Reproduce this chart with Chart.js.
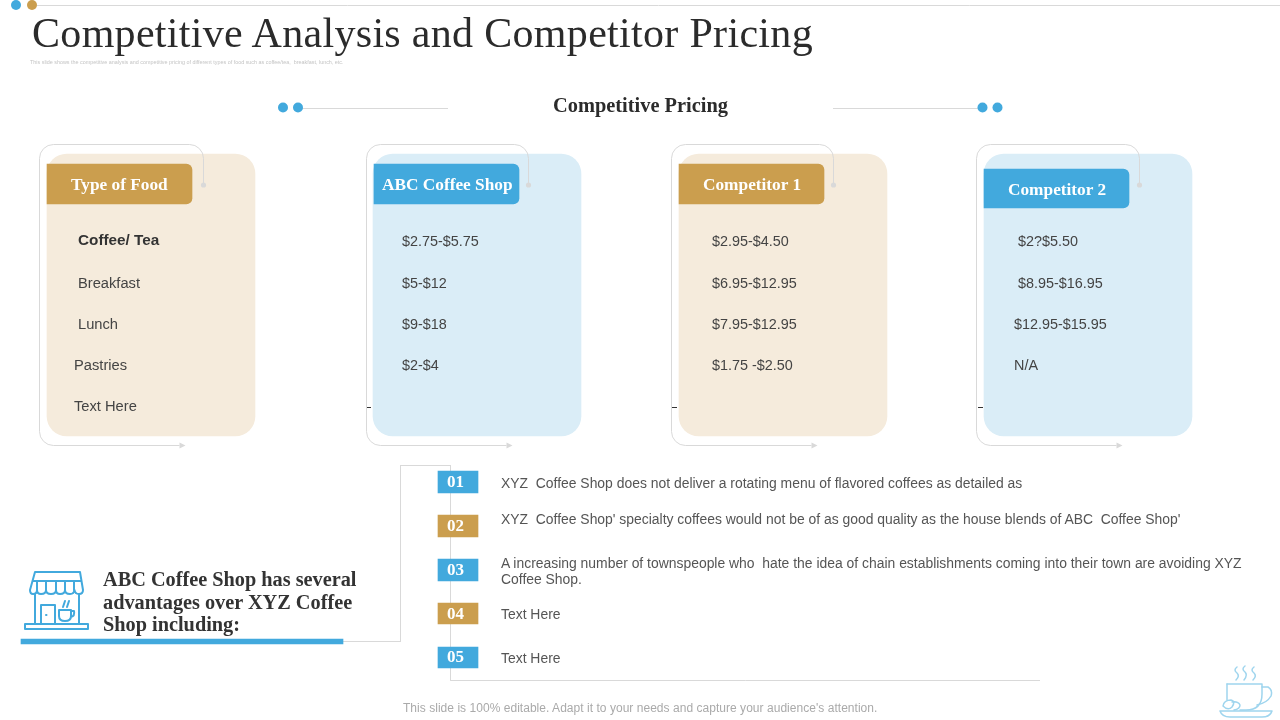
<!DOCTYPE html>
<html><head><meta charset="utf-8">
<script src="https://cdn.jsdelivr.net/npm/chart.js@4"></script>
<style>
html,body{margin:0;padding:0;background:#fff;width:1280px;height:720px;overflow:hidden}
#c{position:absolute;left:0;top:0}
.t{position:absolute;white-space:pre;transform:translateY(-50%);line-height:1;font-family:"Liberation Sans",Arial,sans-serif}
.s{font-family:"Liberation Serif",serif}
svg{position:absolute;left:0;top:0}
</style></head><body>
<canvas id="c" width="1280" height="720"></canvas>
<div id="txt"></div>
<svg width="1280" height="720" fill="none">
 <g stroke="#42A9DD" stroke-width="2" stroke-linejoin="round" stroke-linecap="round">
  <path d="M35 572H80L83 590Q83 594 79 594Q75 594 74.500 590Q74 594 70 594Q65 594 65 590Q65 594 60 594Q56 594 56 590Q56 594 51 594Q46 594 46 590Q46 594 41 594Q37 594 37 590Q37 594 33 594Q30 594 30 590Z"/>
  <path d="M33 581H81M37 581V590M46 581V590M56 581V590M65 581V590M74 581V590"/>
  <path d="M35 594V624M79 594V624"/>
  <rect x="25" y="624" width="63" height="5"/>
  <path d="M41 624V605H55V624"/><path d="M46 615h.5"/>
  <path d="M59 610H71V616Q71 621 65 621Q59 621 59 616ZM71 611H74Q75 616 71 617"/>
  <path d="M63 607L65 601M67 607L69 601"/>
 </g>
 <g stroke="#9FD5EE" stroke-width="1.500" stroke-linejoin="round" stroke-linecap="round">
  <path d="M1237 667Q1233 670 1237 673Q1240 676 1236 680M1245 666Q1241 669 1245 672Q1248 675 1244 680M1254 667Q1250 670 1254 673Q1257 676 1253 680"/>
  <path d="M1227 684H1262V694Q1262 710 1246 710H1240"/><path d="M1227 684V700"/>
  <path d="M1262 687H1268Q1273 690 1271 696Q1267 703 1257 705"/>
  <path d="M1220 711H1272Q1270 717 1262 717H1230Q1222 717 1220 711Z"/>
  <path d="M1223 706Q1224 700 1231 700Q1236 701 1232 707Q1228 711 1223 706ZM1232 702Q1238 701 1240 705Q1240 709 1234 710"/>
 </g>
</svg>
<script>
// ---- table contents ----
const columnHeaders = ["Type of Food","ABC Coffee Shop","Competitor 1","Competitor 2"];
const foods       = ["Coffee/ Tea","Breakfast","Lunch","Pastries","Text Here"];
const abcPrices   = ["$2.75-$5.75","$5-$12","$9-$18","$2-$4"];
const comp1Prices = ["$2.95-$4.50","$6.95-$12.95","$7.95-$12.95","$1.75 -$2.50"];
const comp2Prices = ["$2?$5.50","$8.95-$16.95","$12.95-$15.95","N/A"];
const badgeLabels = ["01","02","03","04","05"];
const advantages  = [
 ["XYZ  Coffee Shop does not deliver a rotating menu of flavored coffees as detailed as"],
 ["XYZ  Coffee Shop' specialty coffees would not be of as good quality as the house blends of ABC  Coffee Shop'"],
 ["A increasing number of townspeople who  hate the idea of chain establishments coming into their town are avoiding XYZ","Coffee Shop."],
 ["Text Here"],["Text Here"]];
const titleText = "Competitive Analysis and Competitor Pricing";
const subtitleText = "This slide shows the competitive analysis and competitive pricing of different types of food such as coffee/tea,  breakfast, lunch, etc.";
const sectionTitle = "Competitive Pricing";
const advantageHeading = ["ABC Coffee Shop has several","advantages over XYZ Coffee","Shop including:"];
const footerText = "This slide is 100% editable. Adapt it to your needs and capture your audience's attention.";

// ---- palette and layout ----
const BLUE="#42A9DD", GOLD="#CB9E4E", PALEB="#DAEDF7", PALEG="#F5EBDC", GREY="#D9D9D9";
const panelCentre=[151,477,783,1088];
const panelFill=[PALEG,PALEB,PALEG,PALEB];
const tabFill=[GOLD,BLUE,GOLD,BLUE];
const tabCentre=[119.5,446.5,751.5,1056.5];
const tabSpan=[[164,204],[164,204],[164,204],[169,208]];
const badgeSpan=[[471,493],[515,537],[559,581],[603,624],[647,668]];
const badgeFill=[BLUE,GOLD,BLUE,GOLD,BLUE];
const bracketLeft=[39,366,671,976];
const bracketRight=[203,528,833,1139];

const seg=(a,b,col,w,o)=>({type:'line',data:[{x:a[0],y:a[1]},{x:b[0],y:b[1]}],borderColor:col,borderWidth:w||1,pointRadius:0,order:o||5,fill:false,tension:0});
const dots=(pts,cols,r)=>({type:'scatter',data:pts.map(p=>({x:p[0],y:p[1]})),backgroundColor:cols,pointRadius:r,pointBorderWidth:0,order:0});

const datasets=[
 {type:'bar',data:panelCentre.map(x=>({x,y:[154,436]})),backgroundColor:panelFill,barThickness:208,borderRadius:20,borderSkipped:false,order:9,grouped:false},
 {type:'bar',data:tabCentre.map((x,i)=>({x,y:tabSpan[i]})),backgroundColor:tabFill,barThickness:145,borderRadius:{topLeft:0,bottomLeft:0,topRight:6,bottomRight:6},borderSkipped:false,order:2,grouped:false},
 {type:'bar',data:badgeSpan.map(y=>({x:458,y})),backgroundColor:badgeFill,barThickness:40,borderSkipped:false,order:2,grouped:false},
 {type:'bar',data:[{x:182,y:[639,644]}],backgroundColor:BLUE,barThickness:322,borderSkipped:false,order:1,grouped:false},
 seg([37,5.5],[1280,5.5],GREY),
 seg([298,108.5],[448,108.5],GREY), seg([833,108.5],[982,108.5],GREY),
 seg([343,641.5],[401,641.5],GREY), seg([400.5,641.5],[400.5,465],GREY), seg([400.5,465.5],[451,465.5],GREY),
 seg([450.5,465],[450.5,680.5],GREY), seg([450.5,680.5],[1040,680.5],GREY),
 seg([366,407.5],[371,407.5],"#333"), seg([672,407.5],[677,407.5],"#333"), seg([978,407.5],[983,407.5],"#333"),
 dots([[16,5],[32,5]],[BLUE,GOLD],5),
 dots([[283,107.500],[298,107.500],[982.5,107.500],[997.5,107.500]],BLUE,5),
];

const brackets={id:'brackets',afterDatasetsDraw(ch){
 const {ctx,scales:{x,y}}=ch; const px=v=>x.getPixelForValue(v), py=v=>y.getPixelForValue(v);
 ctx.save(); ctx.strokeStyle=GREY; ctx.fillStyle=GREY; ctx.lineWidth=1;
 bracketLeft.forEach((l,i)=>{
  const L=px(l)+.5, R=px(bracketRight[i])+.5, T=py(145)-.5, B=py(445)+.5, r=14, end=py(185);
  ctx.beginPath(); ctx.moveTo(R,end); ctx.lineTo(R,T+r); ctx.arcTo(R,T,R-r,T,r); ctx.lineTo(L+r,T);
  ctx.arcTo(L,T,L,T+r,r); ctx.lineTo(L,B-r); ctx.arcTo(L,B,L+r,B,r); ctx.lineTo(L+140,B); ctx.stroke();
  ctx.beginPath(); ctx.arc(R,end,2.6,0,7); ctx.fill();
  ctx.beginPath(); ctx.moveTo(L+140,B-3); ctx.lineTo(L+146,B); ctx.lineTo(L+140,B+3); ctx.fill();
 });
 ctx.restore();
}};

new Chart(document.getElementById('c'),{
 data:{datasets},
 plugins:[brackets],
 options:{responsive:false,animation:false,devicePixelRatio:1,events:[],
  layout:{padding:0,autoPadding:false},
  plugins:{legend:{display:false},tooltip:{enabled:false},title:{display:false}},
  scales:{x:{type:'linear',min:0,max:1280,display:false,offset:false},
          y:{type:'linear',min:0,max:720,reverse:true,display:false}}}
});

// ---- real text ----
const host=document.getElementById('txt');
function put(str,x,y,css,cls){const d=document.createElement('div');d.className='t '+(cls||'');d.textContent=str;d.style.cssText=`left:${x}px;top:${y}px;`+css;host.appendChild(d);return d;}
put(titleText,32,33,'font-size:42px;color:#2b2b2b;letter-spacing:.31px;','s');
put(subtitleText,30,63,'font-size:5.4px;color:#c4c4c4;');
put(sectionTitle,553,105,'font-size:20.4px;font-weight:700;color:#2b2b2b;','s');
const hdrLeft=[71,382,703,1008], hdrY=[184.5,184.5,184.5,189.5];
columnHeaders.forEach((h,i)=>put(h,hdrLeft[i],hdrY[i],'font-size:17.3px;font-weight:700;color:#fff;','s'));
const rowY=[240.500,283,324,365,406], B='font-size:14.4px;color:#444;';
const foodX=[78,78,78,74,74];
foods.forEach((f,i)=>put(f,foodX[i],i==0?240:rowY[i],'color:#444;'+(i==0?'font-size:15.3px;font-weight:700;color:#333;':'font-size:14.7px;')));
abcPrices.forEach((p,i)=>put(p,402,rowY[i],B));
comp1Prices.forEach((p,i)=>put(p,712,rowY[i],B));
const c2X=[1018,1018,1014,1014];
comp2Prices.forEach((p,i)=>put(p,c2X[i],rowY[i],B));
const badgeY=[481,525,569,613,656];
badgeLabels.forEach((b,i)=>put(b,447,badgeY[i],'font-size:17px;font-weight:700;color:#fff;','s'));
const itemY=[[484],[520],[564,580],[615],[659]];
advantages.forEach((ls,i)=>ls.forEach((l,j)=>put(l,501,itemY[i][j],'font-size:13.92px;color:#555;')));
const headY=[579,602,624];
advantageHeading.forEach((l,i)=>put(l,103,headY[i],'font-size:20.3px;font-weight:700;color:#333;','s'));
put(footerText,403,708,'font-size:12px;letter-spacing:.035px;color:#aaa;');
</script>
</body></html>
